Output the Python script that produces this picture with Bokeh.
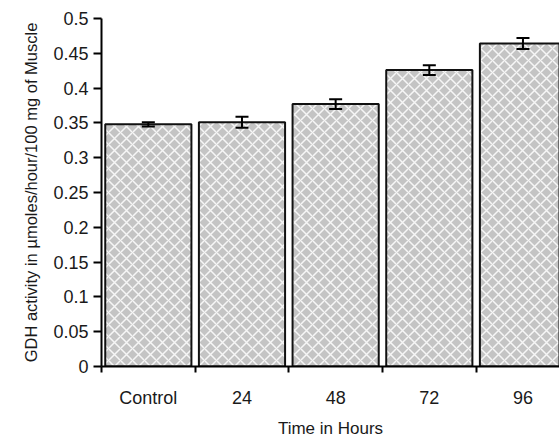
from bokeh.plotting import figure
from bokeh.models import (ColumnDataSource, Range1d, FixedTicker, LinearAxis,
                          Whisker, TeeHead)
from bokeh.embed import file_html
from bokeh.resources import INLINE

categories = ["Control", "24", "48", "72", "96"]
gdh_activity = [0.348, 0.351, 0.377, 0.426, 0.464]
gdh_error = [0.003, 0.008, 0.007, 0.007, 0.008]
y_ticks = [0, 0.05, 0.1, 0.15, 0.2, 0.25, 0.3, 0.35, 0.4, 0.45, 0.5]
y_tick_labels = ["0", "0.05", "0.1", "0.15", "0.2", "0.25", "0.3", "0.35", "0.4", "0.45", "0.5"]

xc = [i + 0.5 for i in range(len(categories))]
src = ColumnDataSource(dict(
    x=xc, top=gdh_activity,
    upper=[v + e for v, e in zip(gdh_activity, gdh_error)],
    lower=[v - e for v, e in zip(gdh_activity, gdh_error)],
))

FONT = "Liberation Sans"
TXT = "#1a1a1a"

p = figure(width=559, height=440, output_backend="svg", toolbar_location=None,
           x_range=Range1d(0, 4.89), y_range=Range1d(0, 0.5),
           x_axis_type=None, y_axis_type=None,
           min_border_left=101, min_border_right=0, min_border_top=18,
           min_border_bottom=71)
p.outline_line_color = None
p.xgrid.visible = False
p.ygrid.visible = False
p.background_fill_color = "white"

p.vbar(x="x", top="top", width=0.92, bottom=0, source=src,
       fill_color="#c4c4c4", line_color="#111111", line_width=2,
       hatch_pattern="diagonal_cross", hatch_color="white",
       hatch_scale=12, hatch_weight=1.5, hatch_alpha=0.85)

wh = Whisker(source=src, base="x", upper="upper", lower="lower",
             line_color="black", line_width=2, level="overlay",
             upper_head=TeeHead(size=13, line_width=2, line_color="black"),
             lower_head=TeeHead(size=13, line_width=2, line_color="black"))
p.add_layout(wh)

yaxis = LinearAxis(ticker=FixedTicker(ticks=y_ticks, minor_ticks=[]),
                   major_label_overrides=dict(zip(y_ticks, y_tick_labels)),
                   axis_label="GDH activity in \u00b5moles/hour/100 mg of Muscle")
yaxis.axis_line_width = 2
yaxis.axis_line_color = "black"
yaxis.major_tick_line_width = 2
yaxis.major_tick_in = 0
yaxis.major_tick_out = 8
yaxis.minor_tick_line_color = None
yaxis.major_label_text_font = FONT
yaxis.major_label_text_font_size = "18px"
yaxis.major_label_text_color = TXT
yaxis.major_label_standoff = 5
yaxis.axis_label_text_font = FONT
yaxis.axis_label_text_font_size = "16.5px"
yaxis.axis_label_text_font_style = "normal"
yaxis.axis_label_text_color = TXT
yaxis.axis_label_standoff = 10
p.add_layout(yaxis, "left")

xaxis = LinearAxis(ticker=FixedTicker(ticks=xc, minor_ticks=list(range(len(categories) + 1))),
                   major_label_overrides=dict(zip(xc, categories)),
                   axis_label="Time in Hours")
xaxis.axis_line_width = 2
xaxis.axis_line_color = "black"
xaxis.major_tick_line_color = None
xaxis.major_tick_in = 0
xaxis.major_tick_out = 0
xaxis.minor_tick_line_width = 2
xaxis.minor_tick_line_color = "black"
xaxis.minor_tick_in = 0
xaxis.minor_tick_out = 6
xaxis.major_label_text_font = FONT
xaxis.major_label_text_font_size = "18px"
xaxis.major_label_text_color = TXT
xaxis.major_label_standoff = 15
xaxis.axis_label_text_font = FONT
xaxis.axis_label_text_font_size = "17px"
xaxis.axis_label_text_font_style = "normal"
xaxis.axis_label_text_color = TXT
xaxis.axis_label_standoff = 8
p.add_layout(xaxis, "below")

open("out.html", "w").write(file_html(p, INLINE))
